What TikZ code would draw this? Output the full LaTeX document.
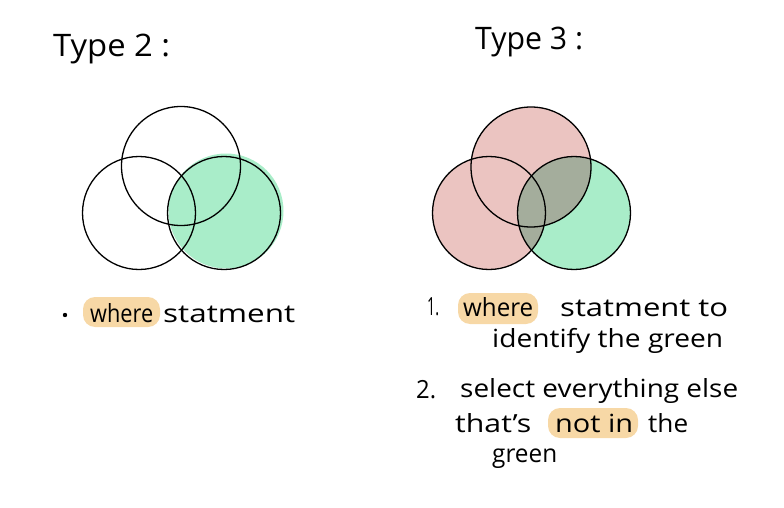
\documentclass[tikz,border=0pt]{standalone}
\usepackage{fontspec}
\setmainfont{Open Sans}
\usepackage{graphicx}
\definecolor{vgreen}{HTML}{A9EDC9}
\definecolor{vpink}{HTML}{EBC4C1}
\definecolor{vgray}{HTML}{A4AD9C}
\definecolor{hilite}{HTML}{F7D8A6}
\newcommand\fitw[2]{\resizebox{#1pt}{\height}{#2}}
\begin{document}
\begin{tikzpicture}[x=1pt,y=-1pt,
  ring/.style={draw=black,line width=1.3pt},
  hand/.style={anchor=base west,inner sep=0pt,font=\fontsize{25}{27}\selectfont},
  title/.style={anchor=base west,inner sep=0pt,font=\fontsize{31}{33}\selectfont},
  hl/.style={fill=hilite,rounded corners=12pt}]
\useasboundingbox (0,0) rectangle (784,508);
% ---- Type 2 ----
\node[title] (t2) at (53,57) {\fitw{117}{Type 2 :}};
\fill[vgreen] (226,211) circle (57.5);
\node[ring,circle,minimum size=119pt,inner sep=0pt] (c2top) at (181,166) {};
\node[ring,circle,minimum size=113pt,inner sep=0pt] (c2left) at (139,213) {};
\node[ring,circle,minimum size=113pt,inner sep=0pt] (c2right) at (224,213) {};
% ---- Type 3 ----
\node[title] (t3) at (475,50) {\fitw{108}{Type 3 :}};
\fill[vpink] (531,167) circle (60);
\fill[vpink] (489,213) circle (56.5);
\fill[vgreen] (574,213) circle (56.5);
\begin{scope}
  \clip (574,213) circle (56.5);
  \fill[vgray] (531,167) circle (60);
  \fill[vgray] (489,213) circle (56.5);
\end{scope}
\node[ring,circle,minimum size=120pt,inner sep=0pt] (c3top) at (531,167) {};
\node[ring,circle,minimum size=113pt,inner sep=0pt] (c3left) at (489,213) {};
\node[ring,circle,minimum size=113pt,inner sep=0pt] (c3right) at (574,213) {};
% ---- left text ----
\fill[hl] (83,297) rectangle (160,327);
\fill (65,315) circle (2.2);
\node[hand] (w1) at (90,322) {\fitw{63}{where}};
\node[hand] (s1) at (163,322) {\fitw{132}{statment}};
% ---- right text ----
\fill[hl] (458,293) rectangle (538,324);
\fill[hl] (548,408) rectangle (638,438);
\node[hand] (n1) at (427,315) {\fitw{12}{1.}};
\node[hand] (w2) at (463,316) {\fitw{70}{where}};
\node[hand] (s2) at (560,316) {\fitw{168}{statment to}};
\node[hand] (l2) at (492,347) {\fitw{231}{identify the green}};
\node[hand] (n2) at (416,398) {\fitw{20}{2.}};
\node[hand] (l3) at (460,397) {\fitw{278}{select everything else}};
\node[hand] (l4a) at (455,432) {\fitw{76}{that's}};
\node[hand] (l4b) at (555,432) {\fitw{78}{not in}};
\node[hand] (l4c) at (648,432) {\fitw{40}{the}};
\node[hand] (l5) at (492,462) {\fitw{65}{green}};
\end{tikzpicture}
\end{document}
